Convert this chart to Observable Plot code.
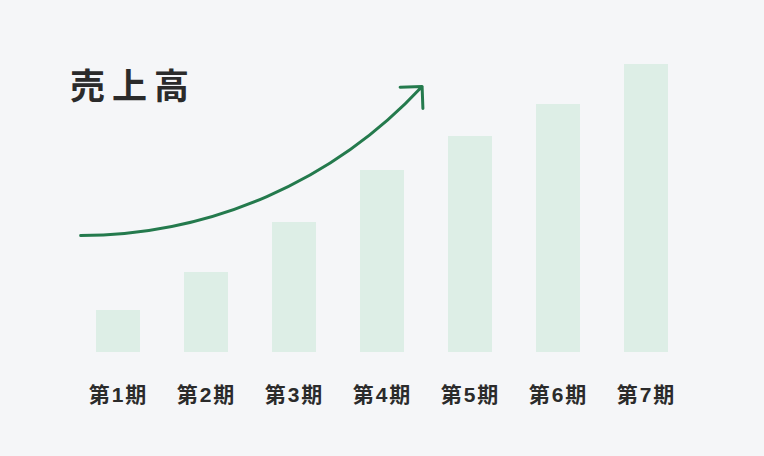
<!DOCTYPE html>
<html>
<head>
<meta charset="utf-8">
<script src="https://cdn.jsdelivr.net/npm/d3@7"></script>
<script src="https://cdn.jsdelivr.net/npm/@observablehq/plot@0.6"></script>
<style>
  html, body { margin: 0; padding: 0; background: #f5f6f8; }
  #wrap { position: relative; width: 764px; height: 456px; }
  #title { position: absolute; left: 70px; top: 59px; font-family: "Noto Sans CJK JP", sans-serif; font-weight: 700; font-size: 35px; letter-spacing: 7px; color: #2b2b2b; line-height: 50px; }
</style>
</head>
<body>
<div id="wrap">
  <div id="chart"></div>
  <div id="title">売上高</div>
</div>
<script>
const periods = [1, 2, 3, 4, 5, 6, 7];
const labels = ["第1期", "第2期", "第3期", "第4期", "第5期", "第6期", "第7期"];
const sales = [42, 80, 130, 182, 216, 248, 288];
// trend arrow (in data units)
const trendStart = {x: 0.57, y: 117};
const trendEnd = {x: 4.45, y: 266};

const data = periods.map((p, i) => ({p, label: labels[i], v: sales[i]}));
const half = 382 / 88;

const chart = Plot.plot({
  width: 764,
  height: 456,
  marginTop: 0,
  marginRight: 0,
  marginBottom: 104,
  marginLeft: 0,
  style: {background: "#f5f6f8", fontFamily: "'Liberation Sans', 'Noto Sans CJK JP', sans-serif"},
  x: {domain: [4 - half, 4 + half], axis: null},
  y: {domain: [0, 352], axis: null},
  marks: [
    Plot.rectY(data, {x1: d => d.p - 0.25, x2: d => d.p + 0.25, y1: 0, y2: "v", fill: "#ddeee6"}),
    Plot.text(data, {x: "p", y: 0, text: "label", dy: 43, fontSize: 21, fontWeight: 700, fill: "#2b2b2b"}),
    Plot.arrow([{x1: trendStart.x, y1: trendStart.y, x2: trendEnd.x, y2: trendEnd.y}], {
      x1: "x1", y1: "y1", x2: "x2", y2: "y2",
      bend: -23.5, headLength: 11, headAngle: 90,
      stroke: "#247a4d", strokeWidth: 3
    })
  ]
});
chart.querySelectorAll("text").forEach(t => t.setAttribute("letter-spacing", "2"));
document.getElementById("chart").appendChild(chart);
</script>
</body>
</html>
